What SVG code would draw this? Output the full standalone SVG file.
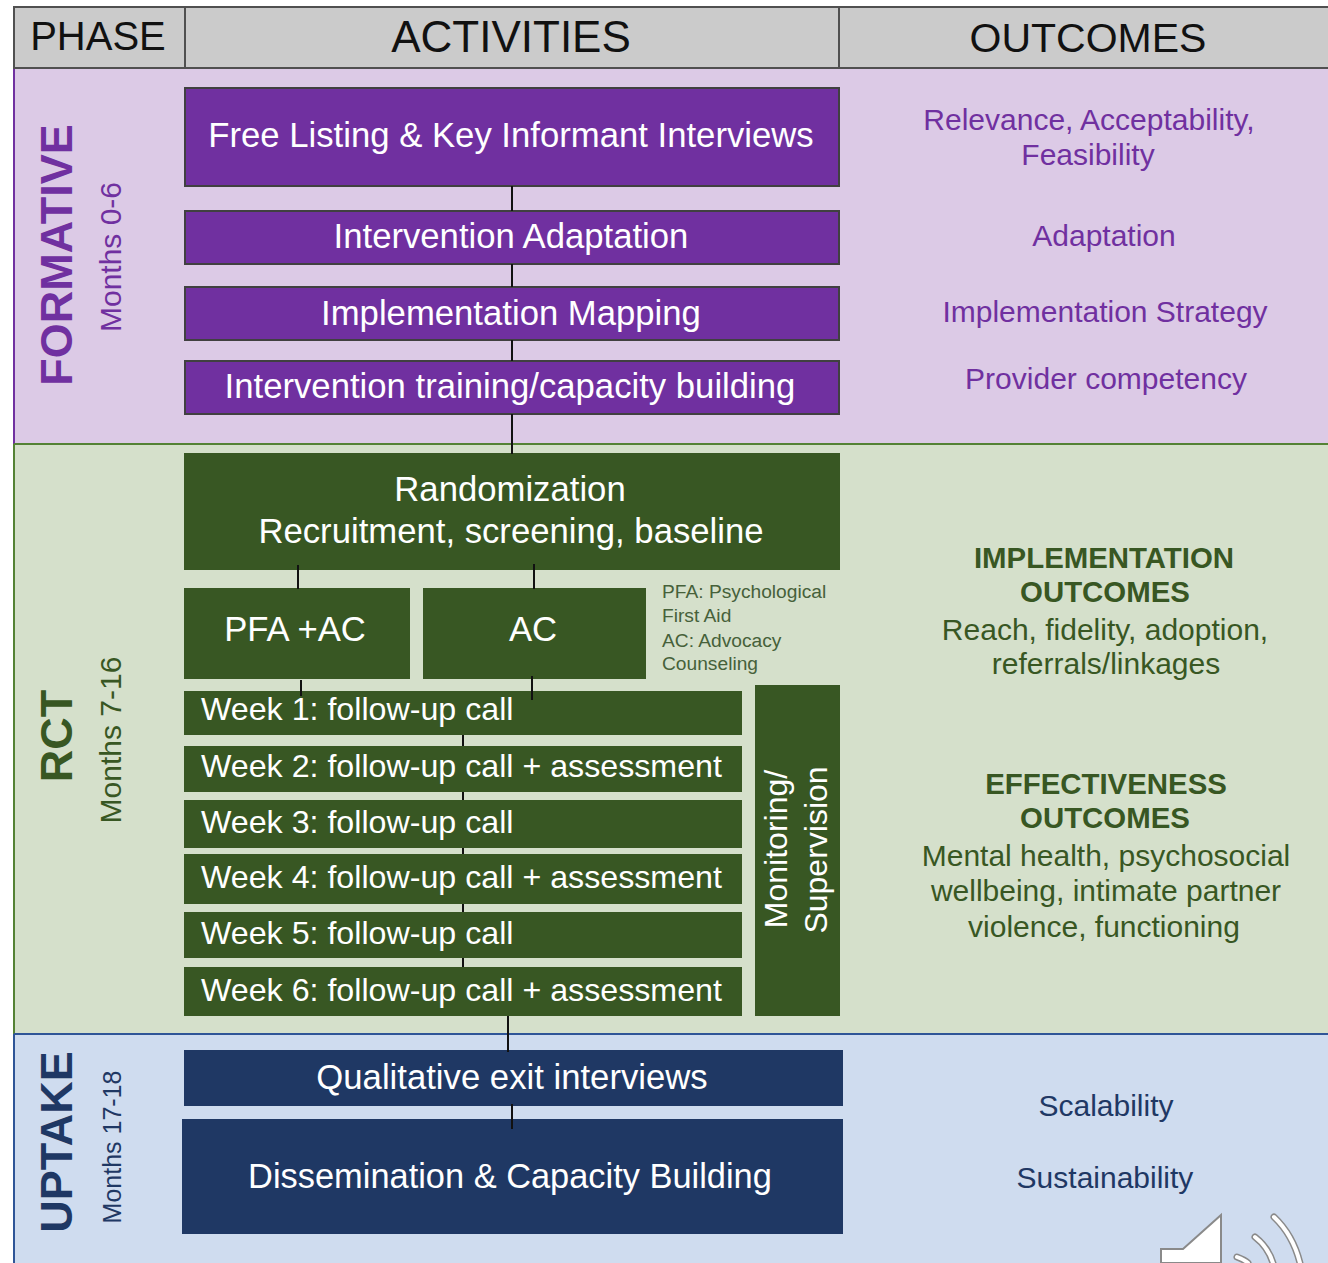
<svg xmlns="http://www.w3.org/2000/svg" width="1328" height="1263" viewBox="0 0 1328 1263">
<style>
text{font-family:"Liberation Sans",Arial,sans-serif}
.w{fill:#fff}
.hd{fill:#111;text-anchor:middle}
.p{fill:#7030a0}.g{fill:#385723}.b{fill:#1f3864}
.pb{fill:#7030a0;stroke:#404040;stroke-width:2}
.t{font-size:34.7px;fill:#fff;text-anchor:middle}
.wk{font-size:32.2px;fill:#fff}
.o{font-size:30px;text-anchor:middle}
.ob{font-size:29.4px;font-weight:bold;text-anchor:middle}
.ph{font-size:45px;font-weight:bold;text-anchor:middle}
.mo{font-size:30px;text-anchor:middle}
.lg{font-size:19.2px;fill:#46613a}
.cn{stroke:#111;stroke-width:2;fill:none}
</style>
<rect width="1328" height="1263" fill="#fff"/>
<g id="bands">
<rect x="14" y="68" width="1314" height="376" fill="#dccae6"/>
<rect x="14" y="444" width="1314" height="590" fill="#d5e0cb"/>
<rect x="14" y="1034" width="1314" height="229" fill="#cfdcef"/>
<path d="M14 68V444" stroke="#7030a0" stroke-width="2" fill="none"/>
<path d="M14 444V1034M14 444H1328" stroke="#548235" stroke-width="2" fill="none"/>
<path d="M14 1034V1263M14 1034H1328" stroke="#2f5597" stroke-width="2" fill="none"/>
</g>
<g id="header">
<rect x="14" y="7" width="1316" height="61" fill="#cbcbcb" stroke="#505050" stroke-width="2"/>
<path d="M185 7V68M839 7V68" stroke="#505050" stroke-width="2"/>
<text class="hd" style="font-size:40px" x="98" y="50">PHASE</text>
<text class="hd" style="font-size:44px" x="511" y="52">ACTIVITIES</text>
<text class="hd" style="font-size:41px" x="1088" y="52">OUTCOMES</text>
</g>
<g id="phases">
<text class="ph p" transform="translate(72 255) rotate(-90)">FORMATIVE</text>
<text class="mo p" transform="translate(121 257) rotate(-90)">Months 0-6</text>
<text class="ph g" transform="translate(72 736) rotate(-90)">RCT</text>
<text class="mo g" transform="translate(121 740) rotate(-90)">Months 7-16</text>
<text class="ph b" transform="translate(72 1142) rotate(-90)">UPTAKE</text>
<text class="b" style="font-size:25px;text-anchor:middle" transform="translate(121 1147) rotate(-90)">Months 17-18</text>
</g>
<g id="n1"><rect class="pb" x="185" y="88" width="654" height="98"/><text class="t" x="511" y="147">Free Listing &amp; Key Informant Interviews</text></g>
<g id="n2"><rect class="pb" x="185" y="211" width="654" height="53"/><text class="t" x="511" y="248">Intervention Adaptation</text></g>
<g id="n3"><rect class="pb" x="185" y="287" width="654" height="53"/><text class="t" x="511" y="325">Implementation Mapping</text></g>
<g id="n4"><rect class="pb" x="185" y="361" width="654" height="53"/><text class="t" x="510" y="398">Intervention training/capacity building</text></g>
<g id="n5"><rect class="g" x="184" y="453" width="656" height="117"/><text class="t" x="510" y="501">Randomization</text><text class="t" x="511" y="543">Recruitment, screening, baseline</text></g>
<g id="n6"><rect class="g" x="184" y="588" width="226" height="91"/><text class="t" x="295" y="641">PFA +AC</text></g>
<g id="n7"><rect class="g" x="423" y="588" width="223" height="91"/><text class="t" x="533" y="641">AC</text></g>
<g id="legend">
<text class="lg" x="662" y="598">PFA: Psychological</text>
<text class="lg" x="662" y="622">First Aid</text>
<text class="lg" x="662" y="647">AC: Advocacy</text>
<text class="lg" x="662" y="670">Counseling</text>
</g>
<g id="w1"><rect class="g" x="184" y="691" width="558" height="44"/><text class="wk" x="201" y="720">Week 1: follow-up call</text></g>
<g id="w2"><rect class="g" x="184" y="746" width="558" height="46"/><text class="wk" x="201" y="777">Week 2: follow-up call + assessment</text></g>
<g id="w3"><rect class="g" x="184" y="800" width="558" height="48"/><text class="wk" x="201" y="833">Week 3: follow-up call</text></g>
<g id="w4"><rect class="g" x="184" y="854" width="558" height="50"/><text class="wk" x="201" y="888">Week 4: follow-up call + assessment</text></g>
<g id="w5"><rect class="g" x="184" y="912" width="558" height="46"/><text class="wk" x="201" y="944">Week 5: follow-up call</text></g>
<g id="w6"><rect class="g" x="184" y="967" width="558" height="49"/><text class="wk" x="201" y="1001">Week 6: follow-up call + assessment</text></g>
<g id="monitor"><rect class="g" x="755" y="685" width="85" height="331"/>
<text class="t" style="font-size:32px" transform="translate(787 849) rotate(-90)">Monitoring/</text>
<text class="t" style="font-size:32px" transform="translate(827 850) rotate(-90)">Supervision</text></g>
<g id="n8"><rect class="b" x="184" y="1050" width="659" height="56"/><text class="t" x="512" y="1089">Qualitative exit interviews</text></g>
<g id="n9"><rect class="b" x="182" y="1119" width="661" height="115"/><text class="t" style="font-size:34.4px" x="510" y="1188">Dissemination &amp; Capacity Building</text></g>
<g id="connectors">
<path class="cn" d="M512 186V211M512 264V287M512 340V361M512 414V454M298 565V589M534 564V589M301 680V696M532 676V700M463 735V746M463 792V800M463 848V854M463 904V912M463 958V967M508 1016V1052M512 1104V1129"/>
</g>
<g id="outcomes">
<text class="o p" x="1089" y="130">Relevance, Acceptability,</text>
<text class="o p" x="1088" y="165">Feasibility</text>
<text class="o p" x="1104" y="246">Adaptation</text>
<text class="o p" x="1105" y="322">Implementation Strategy</text>
<text class="o p" x="1106" y="389">Provider competency</text>
<text class="ob g" x="1104" y="568">IMPLEMENTATION</text>
<text class="ob g" x="1105" y="602">OUTCOMES</text>
<text class="o g" x="1105" y="640">Reach, fidelity, adoption,</text>
<text class="o g" x="1106" y="674">referrals/linkages</text>
<text class="ob g" x="1106" y="794">EFFECTIVENESS</text>
<text class="ob g" x="1105" y="828">OUTCOMES</text>
<text class="o g" x="1106" y="866">Mental health, psychosocial</text>
<text class="o g" x="1106" y="901">wellbeing, intimate partner</text>
<text class="o g" x="1104" y="937">violence, functioning</text>
<text class="o b" x="1106" y="1116">Scalability</text>
<text class="o b" x="1105" y="1188">Sustainability</text>
</g>
<g id="speaker">
<path d="M1161 1263V1249H1183L1221 1215V1263Z" fill="#fff" stroke="#8a8a8a" stroke-width="2"/>
<g fill="none" stroke-linecap="round">
<path d="M1237 1257Q1245 1260 1248 1263" stroke="#8a8a8a" stroke-width="7"/>
<path d="M1255 1237Q1268 1247 1273 1263" stroke="#8a8a8a" stroke-width="7"/>
<path d="M1274 1217Q1293 1235 1300 1263" stroke="#8a8a8a" stroke-width="7"/>
<path d="M1237 1257Q1245 1260 1248 1263" stroke="#fff" stroke-width="4"/>
<path d="M1255 1237Q1268 1247 1273 1263" stroke="#fff" stroke-width="4"/>
<path d="M1274 1217Q1293 1235 1300 1263" stroke="#fff" stroke-width="4"/>
</g>
</g>
</svg>
